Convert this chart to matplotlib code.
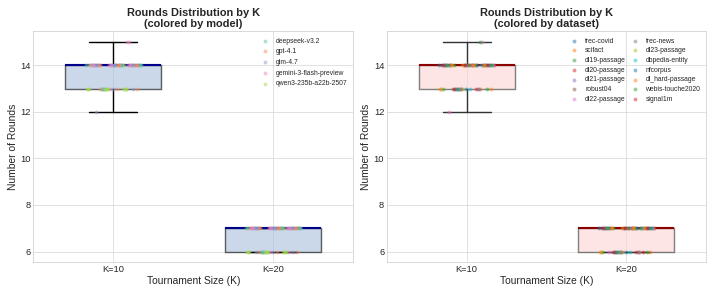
import numpy as np
import matplotlib
matplotlib.use("Agg")
import matplotlib.pyplot as plt

plt.style.use("seaborn-v0_8-whitegrid")
plt.rcParams["font.family"] = ["Liberation Sans", "DejaVu Sans"]

k_labels = ["K=10", "K=20"]
models = ["deepseek-v3.2", "gpt-4.1", "glm-4.7", "gemini-3-flash-preview", "qwen3-235b-a22b-2507"]
datasets = ["trec-covid", "scifact", "dl19-passage", "dl20-passage", "dl21-passage",
            "robust04", "dl22-passage", "trec-news", "dl23-passage", "dbpedia-entity",
            "nfcorpus", "dl_hard-passage", "webis-touche2020", "signal1m"]

# rows = models, columns = datasets
rounds_k10 = [
    [14, 13, 14, 14, 13, 14, 14, 13, 14, 14, 13, 14, 14, 13],
    [14, 13, 14, 14, 14, 13, 14, 14, 14, 13, 14, 14, 14, 14],
    [14, 14, 13, 14, 14, 14, 12, 14, 14, 14, 13, 14, 14, 14],
    [14, 14, 14, 14, 14, 14, 15, 14, 13, 14, 14, 14, 15, 14],
    [13, 13, 13, 13, 13, 14, 13, 13, 13, 13, 14, 13, 13, 13],
]
rounds_k20 = [
    [7, 6, 7, 7, 6, 7, 7, 6, 7, 7, 6, 7, 7, 6],
    [7, 6, 7, 7, 7, 6, 7, 7, 7, 6, 7, 7, 7, 7],
    [7, 7, 6, 7, 7, 7, 6, 7, 7, 7, 6, 7, 7, 7],
    [7, 7, 7, 6, 7, 7, 7, 7, 6, 7, 7, 7, 7, 7],
    [6, 6, 6, 6, 6, 7, 6, 6, 6, 6, 7, 6, 6, 6],
]

model_colors = plt.get_cmap("Set2").colors[:len(models)]
dataset_colors = [plt.get_cmap("tab10").colors[i % 10] for i in range(len(datasets))]

n_m, n_d = len(models), len(datasets)
all_rounds = [np.array(rounds_k10), np.array(rounds_k20)]
# deterministic spread of the strip points
offsets = np.linspace(-0.17, 0.17, n_m * n_d)
perm = (np.arange(n_m * n_d) * 23) % (n_m * n_d)
offsets = offsets[perm].reshape(n_m, n_d)

fig, axes = plt.subplots(1, 2, figsize=(14, 5.765), dpi=51)


def draw_panel(ax, by, face, med, edge):
    for k, vals in enumerate(all_rounds):
        if by == "model":
            for i, m in enumerate(models):
                ax.scatter(k + offsets[i], vals[i], s=30, color=model_colors[i], alpha=0.5,
                           linewidths=0, zorder=4, label=m if k == 0 else None)
        else:
            for j, d in enumerate(datasets):
                ax.scatter(k + offsets[:, j], vals[:, j], s=30, color=dataset_colors[j], alpha=0.5,
                           linewidths=0, zorder=4, label=d if k == 0 else None)
    ax.boxplot([v.flatten() for v in all_rounds], positions=[0, 1], widths=0.6,
               patch_artist=True, showfliers=False,
               boxprops=dict(facecolor=face, edgecolor=edge, linewidth=2, alpha=0.6),
               medianprops=dict(color=med, linewidth=3),
               whiskerprops=dict(color=edge, linewidth=2),
               capprops=dict(color=edge, linewidth=2), zorder=3)
    ax.set_xlim(-0.5, 1.5)
    ax.set_xticks([0, 1])
    ax.set_xticklabels(k_labels, fontsize=13)
    ax.tick_params(axis="y", labelsize=13)
    ax.set_xlabel("Tournament Size (K)", fontsize=14.5)
    ax.set_ylabel("Number of Rounds", fontsize=14.5)
    ax.set_title(f"Rounds Distribution by K\n(colored by {by})", fontsize=15.5, fontweight="bold")
    for s in ax.spines.values():
        s.set_visible(True)
        s.set_color("#cccccc")


draw_panel(axes[0], "model", "#a8bfdc", "darkblue", "black")
axes[0].legend(loc="upper right", frameon=False, fontsize=9.5, scatterpoints=1,
               handletextpad=0.6, labelspacing=0.55)
draw_panel(axes[1], "dataset", "#fdd5d5", "darkred", "#333333")
axes[1].legend(loc="upper right", frameon=False, fontsize=9.5, ncol=2, scatterpoints=1,
               columnspacing=0.3, handletextpad=0.6, labelspacing=0.4)

plt.tight_layout()
plt.savefig("out.png")
